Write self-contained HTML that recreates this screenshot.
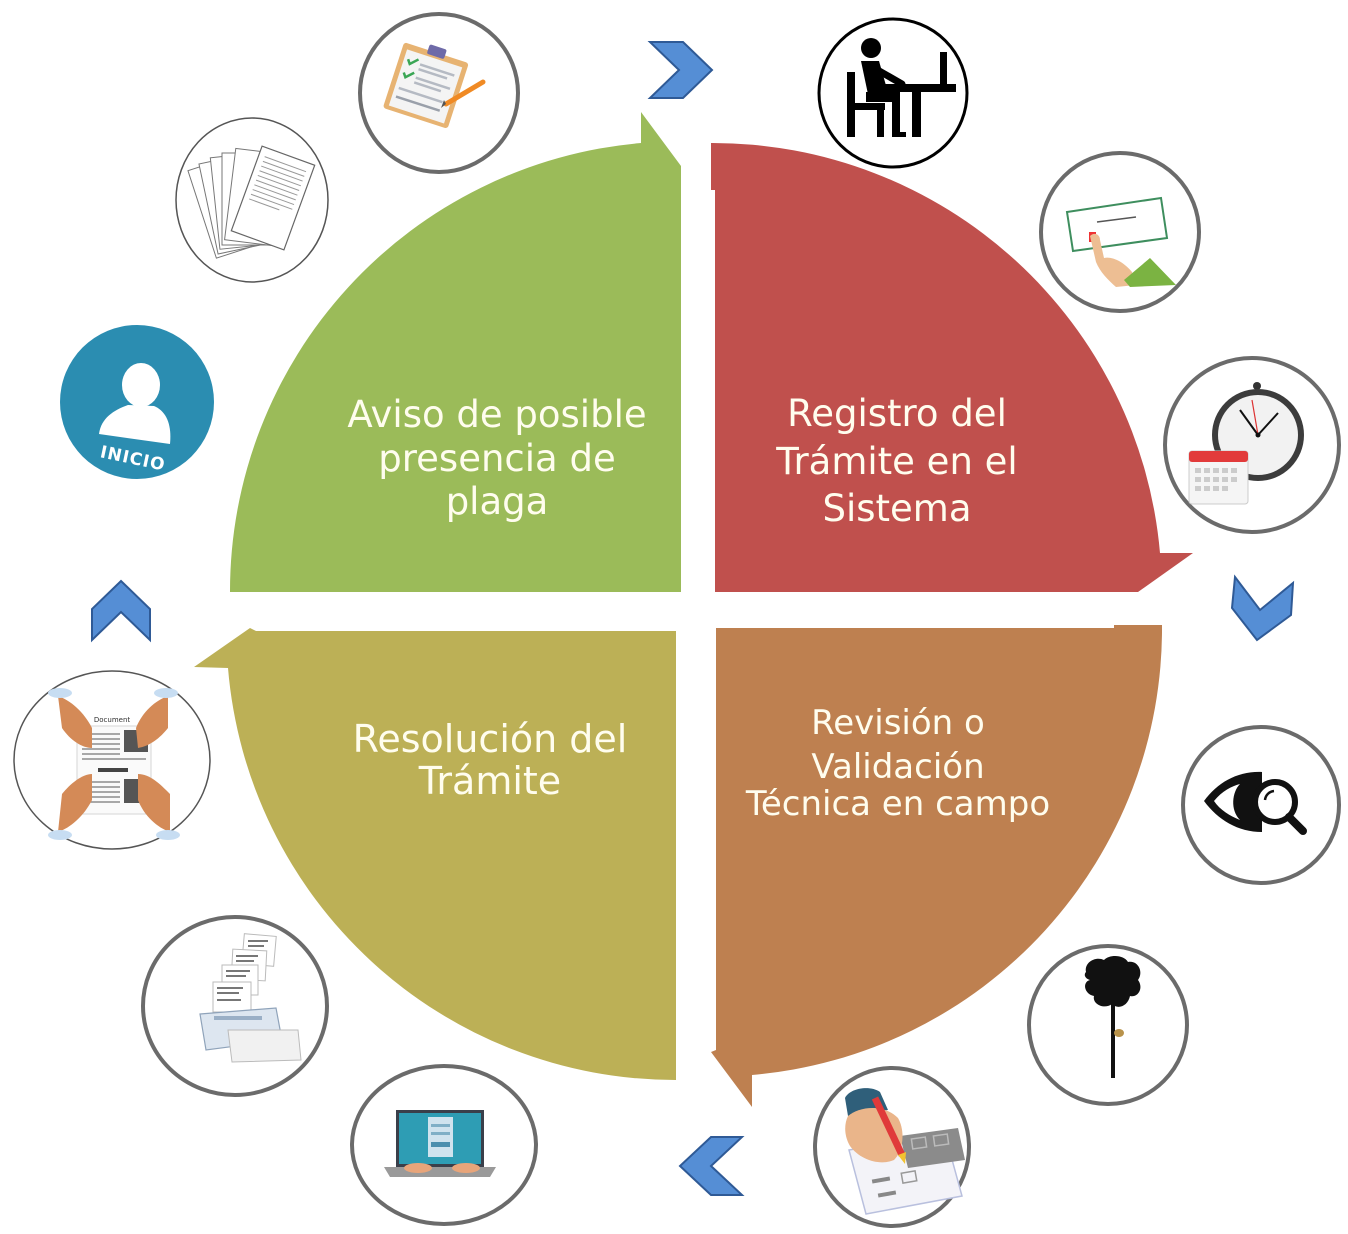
<!DOCTYPE html>
<html><head><meta charset="utf-8"><style>
html,body{margin:0;padding:0;background:#fff;}
svg{display:block;}
</style></head><body>
<svg width="1348" height="1234" viewBox="0 0 1348 1234" xmlns="http://www.w3.org/2000/svg" font-family="'DejaVu Sans','Liberation Sans',sans-serif">
<rect width="1348" height="1234" fill="#fff"/>
<!-- quadrants -->
<path d="M230,592 A450,450 0 0 1 641,143 L641,112 L681,166 L681,592 Z" fill="#9BBB59"/>
<path d="M711,143 A449,449 0 0 1 1160,553 L1193,553 L1138,592 L715,592 L715,190 L711,190 Z" fill="#C0504D"/>
<path d="M716,628 L1114,628 L1114,625 L1162,625 A448,448 0 0 1 752,1075 L752,1107 L711,1052 L716,1050 Z" fill="#BE8050"/>
<path d="M676,631 L676,1080 A449,449 0 0 1 228,668 L194,667 L250,628 L256,631 Z" fill="#BCB056"/>

<!-- quadrant texts -->
<g fill="#FFFDEE" text-anchor="middle">
<text x="497" y="427" font-size="37">Aviso de posible</text>
<text x="497" y="471" font-size="37">presencia de</text>
<text x="497" y="514" font-size="37">plaga</text>
<text x="897" y="426" font-size="37">Registro del</text>
<text x="897" y="474" font-size="37">Trámite en el</text>
<text x="897" y="521" font-size="37">Sistema</text>
<text x="490" y="752" font-size="38">Resolución del</text>
<text x="490" y="794" font-size="38">Trámite</text>
<text x="898" y="734" font-size="34">Revisión o</text>
<text x="898" y="778" font-size="34">Validación</text>
<text x="898" y="815" font-size="34">Técnica en campo</text>
</g>

<!-- chevrons -->
<g fill="#558ED5" stroke="#2F5A96" stroke-width="2" stroke-linejoin="miter">
<polygon points="650,42 683,42 712,70 683,98 650,98 679,70"/>
<polygon points="1235,577 1260,610 1293,583 1291,615 1257,640 1232,608"/>
<polygon points="742,1137 711,1137 680,1166 711,1195 742,1195 711,1166"/>
<polygon points="121,581 150,609 150,640 121,612 92,640 92,609"/>
</g>

<!-- 1 clipboard -->
<circle cx="439" cy="93" r="79" fill="#fff" stroke="#6b6b6b" stroke-width="4"/>
<g transform="rotate(18 426 85)">
 <rect x="392" y="51" width="68" height="69" rx="3" fill="#E7B372"/>
 <rect x="397" y="57" width="58" height="59" fill="#F4F4F4"/>
 <rect x="417" y="45" width="18" height="10" rx="2" fill="#6E6AA8"/>
 <path d="M401,66 l3,4 l7,-7" stroke="#3AA655" stroke-width="2.5" fill="none"/>
 <path d="M401,80 l3,4 l7,-7" stroke="#3AA655" stroke-width="2.5" fill="none"/>
 <rect x="414" y="66" width="36" height="2.5" fill="#B5BAC3"/>
 <rect x="414" y="71" width="30" height="2.5" fill="#B5BAC3"/>
 <rect x="414" y="80" width="36" height="2.5" fill="#B5BAC3"/>
 <rect x="414" y="85" width="28" height="2.5" fill="#B5BAC3"/>
 <rect x="401" y="95" width="46" height="2.5" fill="#B5BAC3"/>
 <rect x="401" y="104" width="46" height="2.5" fill="#9AA0AA"/>
</g>
<path d="M446,104 L483,82" stroke="#F08A24" stroke-width="5" stroke-linecap="round"/>
<path d="M446,104 L441,108 L444,100 Z" fill="#555"/>

<!-- 2 documents -->
<ellipse cx="252" cy="200" rx="76" ry="82" fill="#fff" stroke="#555" stroke-width="1.5"/>
<g fill="#fff" stroke="#777" stroke-width="1">
 <rect x="-24" y="-46" width="48" height="92" transform="translate(225,207) rotate(-18)"/>
 <rect x="-24" y="-46" width="48" height="92" transform="translate(232,204) rotate(-12)"/>
 <rect x="-24" y="-46" width="48" height="92" transform="translate(239,201) rotate(-6)"/>
 <rect x="-24" y="-46" width="48" height="92" transform="translate(246,199) rotate(0)"/>
 <rect x="-24" y="-46" width="48" height="92" transform="translate(254,197) rotate(7)"/>
</g>
<g transform="translate(273,198) rotate(20)">
 <rect x="-28" y="-45" width="56" height="90" fill="#fff" stroke="#666" stroke-width="1.2"/>
 <g stroke="#999" stroke-width="1">
  <line x1="-22" y1="-36" x2="22" y2="-36"/><line x1="-22" y1="-31" x2="22" y2="-31"/>
  <line x1="-22" y1="-26" x2="22" y2="-26"/><line x1="-22" y1="-21" x2="22" y2="-21"/>
  <line x1="-22" y1="-16" x2="22" y2="-16"/><line x1="-22" y1="-11" x2="22" y2="-11"/>
  <line x1="-22" y1="-6" x2="22" y2="-6"/><line x1="-22" y1="-1" x2="22" y2="-1"/>
  <line x1="-22" y1="4" x2="22" y2="4"/><line x1="-22" y1="9" x2="10" y2="9"/>
 </g>
</g>

<!-- 3 INICIO -->
<circle cx="137" cy="402" r="77" fill="#2B8DB1"/>
<ellipse cx="141" cy="385" rx="19" ry="22" fill="#fff"/>
<path d="M99,434 C101,418 114,410 128,405 L154,406 C166,411 172,424 170,444 Z" fill="#fff"/>
<text x="133" y="464" font-size="17" font-weight="bold" fill="#fff" text-anchor="middle" letter-spacing="1" transform="rotate(12 133 458)">INICIO</text>

<!-- 5 handshake document -->
<ellipse cx="112" cy="760" rx="98" ry="89" fill="#fff" stroke="#555" stroke-width="1.5"/>
<rect x="77" y="726" width="74" height="88" fill="#fafafa" stroke="#ccc" stroke-width="0.8"/>
<text x="112" y="722" font-size="7" fill="#333" text-anchor="middle">Document</text>
<g stroke="#777" stroke-width="1.2">
 <line x1="82" y1="734" x2="120" y2="734"/><line x1="82" y1="739" x2="120" y2="739"/>
 <line x1="82" y1="744" x2="120" y2="744"/><line x1="82" y1="749" x2="120" y2="749"/>
 <line x1="82" y1="754" x2="120" y2="754"/><line x1="82" y1="759" x2="146" y2="759"/>
 <line x1="82" y1="782" x2="120" y2="782"/><line x1="82" y1="787" x2="120" y2="787"/>
 <line x1="82" y1="792" x2="120" y2="792"/><line x1="82" y1="797" x2="120" y2="797"/>
 <line x1="82" y1="802" x2="120" y2="802"/>
</g>
<rect x="124" y="730" width="24" height="22" fill="#555"/>
<rect x="124" y="779" width="24" height="24" fill="#555"/>
<rect x="98" y="768" width="30" height="4" fill="#444"/>
<g fill="#D48A57">
 <path d="M58,696 C70,700 84,712 92,728 L92,748 C82,748 70,740 62,728 Z"/>
 <path d="M168,696 C156,700 142,712 136,728 L138,748 C150,746 160,738 168,728 Z"/>
 <path d="M58,832 C70,828 84,816 92,800 L92,774 C82,774 70,784 62,794 Z"/>
 <path d="M170,832 C158,828 144,816 138,800 L138,774 C150,774 160,784 170,794 Z"/>
</g>
<g fill="#C7DDF2">
 <ellipse cx="60" cy="693" rx="12" ry="5"/><ellipse cx="166" cy="693" rx="12" ry="5"/>
 <ellipse cx="60" cy="835" rx="12" ry="5"/><ellipse cx="168" cy="835" rx="12" ry="5"/>
</g>

<!-- 6 printer -->
<ellipse cx="235" cy="1006" rx="92" ry="89" fill="#fff" stroke="#6b6b6b" stroke-width="4"/>
<g fill="#fff" stroke="#bbb" stroke-width="1">
 <rect x="243" y="935" width="32" height="30" transform="rotate(5 259 950)"/>
 <rect x="232" y="950" width="34" height="30" transform="rotate(3 249 965)"/>
 <rect x="222" y="965" width="36" height="30"/>
 <rect x="213" y="982" width="38" height="30"/>
</g>
<g fill="#777">
 <rect x="248" y="940" width="20" height="2"/><rect x="248" y="945" width="16" height="2"/>
 <rect x="236" y="955" width="22" height="2"/><rect x="236" y="960" width="18" height="2"/>
 <rect x="226" y="970" width="24" height="2"/><rect x="226" y="975" width="20" height="2"/>
 <rect x="217" y="987" width="26" height="2"/><rect x="217" y="992" width="22" height="2"/>
 <rect x="217" y="999" width="24" height="2"/>
</g>
<path d="M200,1014 L276,1008 L282,1040 L206,1050 Z" fill="#DDE6F0" stroke="#8FA3BA" stroke-width="1.2"/>
<path d="M228,1030 L298,1030 L301,1060 L232,1062 Z" fill="#F1F1F1" stroke="#bbb" stroke-width="1"/>
<rect x="214" y="1016" width="48" height="4" fill="#9AAFC6"/>

<!-- 7 laptop -->
<ellipse cx="444" cy="1145" rx="92" ry="79" fill="#fff" stroke="#6b6b6b" stroke-width="4"/>
<rect x="396" y="1110" width="88" height="57" fill="#3A3F4A"/>
<rect x="399" y="1113" width="82" height="51" fill="#2E9DB4"/>
<rect x="428" y="1117" width="25" height="40" fill="#CFE3EE"/>
<rect x="431" y="1124" width="19" height="3" fill="#7FAFC6"/><rect x="431" y="1132" width="19" height="3" fill="#7FAFC6"/><rect x="431" y="1142" width="19" height="5" fill="#4C8FAE"/>
<path d="M384,1167 L496,1167 L490,1177 L390,1177 Z" fill="#9A9A9A"/>
<ellipse cx="418" cy="1168" rx="14" ry="5" fill="#E8A57A"/>
<ellipse cx="466" cy="1168" rx="14" ry="5" fill="#E8A57A"/>

<!-- 9 pencil form -->
<ellipse cx="892" cy="1147" rx="77" ry="79" fill="#fff" stroke="#6b6b6b" stroke-width="4"/>
<path d="M849,1150 L945,1134 L962,1196 L866,1214 Z" fill="#F3F3F8" stroke="#B9C0DE" stroke-width="1.5"/>
<path d="M900,1136 L958,1128 L965,1160 L908,1168 Z" fill="#8B8B8B"/>
<rect x="912" y="1138" width="14" height="10" fill="none" stroke="#bbb" stroke-width="1.5" transform="rotate(-8 919 1143)"/>
<rect x="934" y="1135" width="14" height="10" fill="none" stroke="#bbb" stroke-width="1.5" transform="rotate(-8 941 1140)"/>
<rect x="872" y="1178" width="18" height="4" fill="#888" transform="rotate(-10 881 1180)"/>
<rect x="878" y="1192" width="18" height="4" fill="#888" transform="rotate(-10 887 1194)"/>
<rect x="902" y="1172" width="14" height="10" fill="none" stroke="#999" stroke-width="1.5" transform="rotate(-10 909 1177)"/>
<path d="M845,1098 C850,1088 870,1085 880,1092 L888,1110 C876,1112 860,1112 848,1116 Z" fill="#2F5F7A"/>
<path d="M848,1116 C860,1106 884,1104 898,1118 C905,1130 904,1150 894,1160 C880,1166 860,1160 850,1146 C844,1136 844,1124 848,1116 Z" fill="#EAB58A"/>
<line x1="875" y1="1098" x2="902" y2="1155" stroke="#E03A3A" stroke-width="7" stroke-linecap="butt"/>
<path d="M898,1155 L906,1152 L905,1164 Z" fill="#F2C230"/>

<!-- 10 tree -->
<ellipse cx="1108" cy="1025" rx="79" ry="79" fill="#fff" stroke="#6b6b6b" stroke-width="4"/>
<path d="M1086,972 C1084,962 1096,956 1104,960 C1110,954 1124,955 1128,962 C1138,960 1144,972 1138,980 C1144,988 1138,998 1130,996 C1128,1006 1118,1010 1112,1004 C1104,1010 1092,1004 1094,996 C1084,994 1082,982 1090,980 C1084,978 1084,974 1086,972 Z" fill="#111"/>
<rect x="1111" y="996" width="4" height="82" fill="#111"/>
<ellipse cx="1119" cy="1033" rx="5" ry="4" fill="#B8924A"/>

<!-- 11 eye -->
<circle cx="1261" cy="805" r="78" fill="#fff" stroke="#6b6b6b" stroke-width="4"/>
<path d="M1204,801 C1218,782 1238,771 1262,772 L1262,832 C1238,832 1218,820 1204,801 Z" fill="#111"/>
<path d="M1214,801 C1222,791 1232,786 1240,784 C1232,792 1230,810 1240,820 C1230,816 1220,810 1214,801 Z" fill="#fff"/>
<circle cx="1275" cy="802" r="20" fill="#fff" stroke="#111" stroke-width="6"/>
<path d="M1265,800 A10,10 0 0 1 1274,791" stroke="#111" stroke-width="2.5" fill="none"/>
<line x1="1289" y1="817" x2="1303" y2="831" stroke="#111" stroke-width="8" stroke-linecap="round"/>

<!-- 13 clock -->
<circle cx="1252" cy="445" r="87" fill="#fff" stroke="#6b6b6b" stroke-width="4"/>
<circle cx="1257" cy="386" r="4" fill="#333"/>
<rect x="1255" y="386" width="4" height="6" fill="#333"/>
<circle cx="1258" cy="435" r="46" fill="#3C3C3C"/>
<circle cx="1258" cy="435" r="40" fill="#F2F2F2"/>
<line x1="1258" y1="435" x2="1240" y2="410" stroke="#111" stroke-width="2"/>
<line x1="1258" y1="435" x2="1278" y2="413" stroke="#111" stroke-width="2"/>
<line x1="1258" y1="435" x2="1252" y2="400" stroke="#D33" stroke-width="1.2"/>
<circle cx="1258" cy="435" r="2.5" fill="#111"/>
<rect x="1189" y="451" width="59" height="53" rx="3" fill="#F5F5F5" stroke="#ccc" stroke-width="1"/>
<rect x="1189" y="451" width="59" height="11" rx="3" fill="#E23B3B"/>
<g fill="#ccc">
 <rect x="1195" y="468" width="6" height="5"/><rect x="1204" y="468" width="6" height="5"/><rect x="1213" y="468" width="6" height="5"/><rect x="1222" y="468" width="6" height="5"/><rect x="1231" y="468" width="6" height="5"/>
 <rect x="1195" y="477" width="6" height="5"/><rect x="1204" y="477" width="6" height="5"/><rect x="1213" y="477" width="6" height="5"/><rect x="1222" y="477" width="6" height="5"/><rect x="1231" y="477" width="6" height="5"/>
 <rect x="1195" y="486" width="6" height="5"/><rect x="1204" y="486" width="6" height="5"/><rect x="1213" y="486" width="6" height="5"/><rect x="1222" y="486" width="6" height="5"/>
</g>

<!-- 14 hand card -->
<ellipse cx="1120" cy="232" rx="79" ry="79" fill="#fff" stroke="#6b6b6b" stroke-width="4"/>
<path d="M1067,212 L1161,198 L1167,238 L1073,251 Z" fill="#fff" stroke="#3E8E5E" stroke-width="2"/>
<line x1="1097" y1="222" x2="1136" y2="217" stroke="#555" stroke-width="1.5"/>
<rect x="1089" y="232" width="7" height="10" fill="#E33"/>
<path d="M1090,236 C1094,232 1100,234 1100,240 L1104,258 C1112,256 1124,262 1132,272 L1136,285 L1116,287 C1108,280 1100,272 1096,262 Z" fill="#EDBE93"/>
<path d="M1124,280 L1150,258 L1176,285 L1130,287 Z" fill="#7BB342"/>

<!-- 15 desk person -->
<circle cx="893" cy="93" r="74" fill="#fff" stroke="#000" stroke-width="3"/>
<g fill="#000">
 <circle cx="871" cy="48" r="10"/>
 <path d="M861,61 L879,61 L889,96 L869,99 Z"/>
 <line x1="874" y1="68" x2="902" y2="84" stroke="#000" stroke-width="7" stroke-linecap="round"/>
 <rect x="866" y="92" width="34" height="10"/>
 <rect x="892" y="100" width="8" height="37"/>
 <rect x="892" y="132" width="14" height="5"/>
 <rect x="847" y="72" width="8" height="65"/>
 <rect x="847" y="103" width="38" height="7"/>
 <rect x="877" y="108" width="7" height="29"/>
 <rect x="884" y="84" width="72" height="8"/>
 <rect x="912" y="92" width="9" height="45"/>
 <rect x="940" y="52" width="7" height="32"/>
</g>
</svg>
</body></html>
